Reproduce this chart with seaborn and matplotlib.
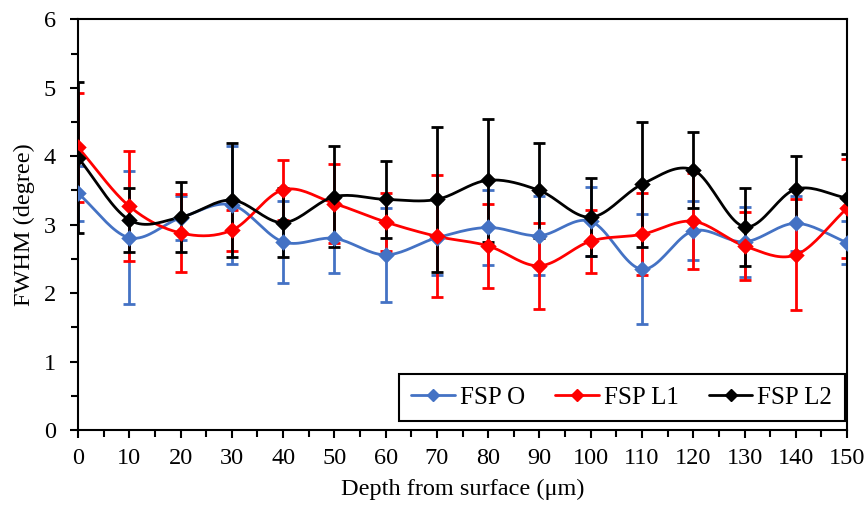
import numpy as np
import pandas as pd
import matplotlib
matplotlib.use("Agg")
import matplotlib.pyplot as plt
import seaborn as sns
from matplotlib.lines import Line2D
from matplotlib.ticker import MultipleLocator

# depth positions (um)
depth = [0, 10, 20, 30, 40, 50, 60, 70, 80, 90, 100, 110, 120, 130, 140, 150]

# FWHM means and error bars
fsp_o = [3.46, 2.81, 3.10, 3.29, 2.75, 2.80, 2.56, 2.81, 2.96, 2.84, 3.05, 2.35, 2.91, 2.75, 3.02, 2.74]
fsp_o_err = [0.40, 0.97, 0.32, 0.86, 0.60, 0.51, 0.69, 0.55, 0.55, 0.58, 0.50, 0.80, 0.43, 0.51, 0.40, 0.32]

fsp_l1 = [4.13, 3.27, 2.88, 2.92, 3.51, 3.31, 3.04, 2.83, 2.69, 2.40, 2.76, 2.86, 3.05, 2.69, 2.56, 3.24]
fsp_l1_err = [0.80, 0.80, 0.57, 0.30, 0.44, 0.57, 0.42, 0.89, 0.62, 0.63, 0.46, 0.60, 0.70, 0.50, 0.81, 0.72]

fsp_l2 = [3.98, 3.07, 3.11, 3.36, 3.03, 3.41, 3.37, 3.37, 3.65, 3.50, 3.11, 3.59, 3.80, 2.97, 3.52, 3.39]
fsp_l2_err = [1.10, 0.47, 0.51, 0.83, 0.50, 0.74, 0.56, 1.06, 0.90, 0.69, 0.57, 0.91, 0.56, 0.57, 0.49, 0.65]

names = ["FSP O", "FSP L1", "FSP L2"]
colors = {"FSP O": "#4472C4", "FSP L1": "#FF0000", "FSP L2": "#000000"}


def smooth(x, y, n=20):
    # Catmull-Rom style curve through the points, like Excel's smoothed line
    x = np.asarray(x, float)
    y = np.asarray(y, float)
    px = np.concatenate([[2 * x[0] - x[1]], x, [2 * x[-1] - x[-2]]])
    py = np.concatenate([[2 * y[0] - y[1]], y, [2 * y[-1] - y[-2]]])
    xs, ys = [], []
    t = np.linspace(0, 1, n, endpoint=False)
    for i in range(1, len(px) - 2):
        for p, out in ((px, xs), (py, ys)):
            p0, p1, p2, p3 = p[i - 1], p[i], p[i + 1], p[i + 2]
            out.extend(0.5 * ((2 * p1) + (-p0 + p2) * t
                              + (2 * p0 - 5 * p1 + 4 * p2 - p3) * t ** 2
                              + (-p0 + 3 * p1 - 3 * p2 + p3) * t ** 3))
    xs.append(x[-1])
    ys.append(y[-1])
    return np.array(xs), np.array(ys)


series = {"FSP O": (fsp_o, fsp_o_err), "FSP L1": (fsp_l1, fsp_l1_err), "FSP L2": (fsp_l2, fsp_l2_err)}

curves = []
for name, (vals, _) in series.items():
    sx, sy = smooth(depth, vals)
    curves.append(pd.DataFrame({"Depth": sx, "FWHM": sy, "Series": name}))
curve_df = pd.concat(curves, ignore_index=True)

sns.set_style("ticks")
plt.rcParams["font.family"] = ["Liberation Serif", "DejaVu Serif"]
plt.rcParams["text.color"] = "black"
plt.rcParams["axes.labelcolor"] = "black"

fig = plt.figure(figsize=(8.67, 5.09), dpi=100)
ax = fig.add_axes([0.090, 0.155, 0.887, 0.807])

for name, (vals, err) in series.items():
    c = colors[name]
    ax.errorbar(depth, vals, yerr=err, fmt="none", ecolor=c, elinewidth=2,
                capsize=4, capthick=2, zorder=2)
    sns.lineplot(data=curve_df[curve_df["Series"] == name], x="Depth", y="FWHM",
                 color=c, lw=2, sort=False, estimator=None, ax=ax, zorder=3)
    ax.scatter(depth, vals, marker="D", s=70, color=c, zorder=4, linewidths=0)

ax.set_xlim(0, 150)
ax.set_ylim(0, 6)
ax.xaxis.set_major_locator(MultipleLocator(10))
ax.xaxis.set_minor_locator(MultipleLocator(5))
ax.yaxis.set_major_locator(MultipleLocator(1))
ax.yaxis.set_minor_locator(MultipleLocator(0.5))
ax.tick_params(which="major", direction="out", length=6, width=1.5, labelsize=17.5,
               colors="black")
ax.tick_params(which="minor", direction="out", length=5, width=1.5, colors="black")
ax.tick_params(axis="x", pad=7)
ax.tick_params(axis="y", pad=10)
for s in ax.spines.values():
    s.set_linewidth(1.5)
    s.set_color("black")

ax.set_xlabel("Depth from surface (μm)", fontsize=17.5, labelpad=7)
ax.set_ylabel("FWHM (degree)", fontsize=17.5, labelpad=6)

handles = [Line2D([0], [0], color=colors[n], lw=2, marker="D", markersize=6) for n in names]
leg = ax.legend(handles, names, loc="lower right", ncol=3, fontsize=18, frameon=True,
                fancybox=False, edgecolor="black", framealpha=1, handlelength=1.75,
                handletextpad=0.2, columnspacing=1.2, borderpad=0.5, borderaxespad=0,
                bbox_to_anchor=(0.997, 0.022))
leg.get_frame().set_linewidth(1.5)

fig.savefig("out.png", dpi=100)
